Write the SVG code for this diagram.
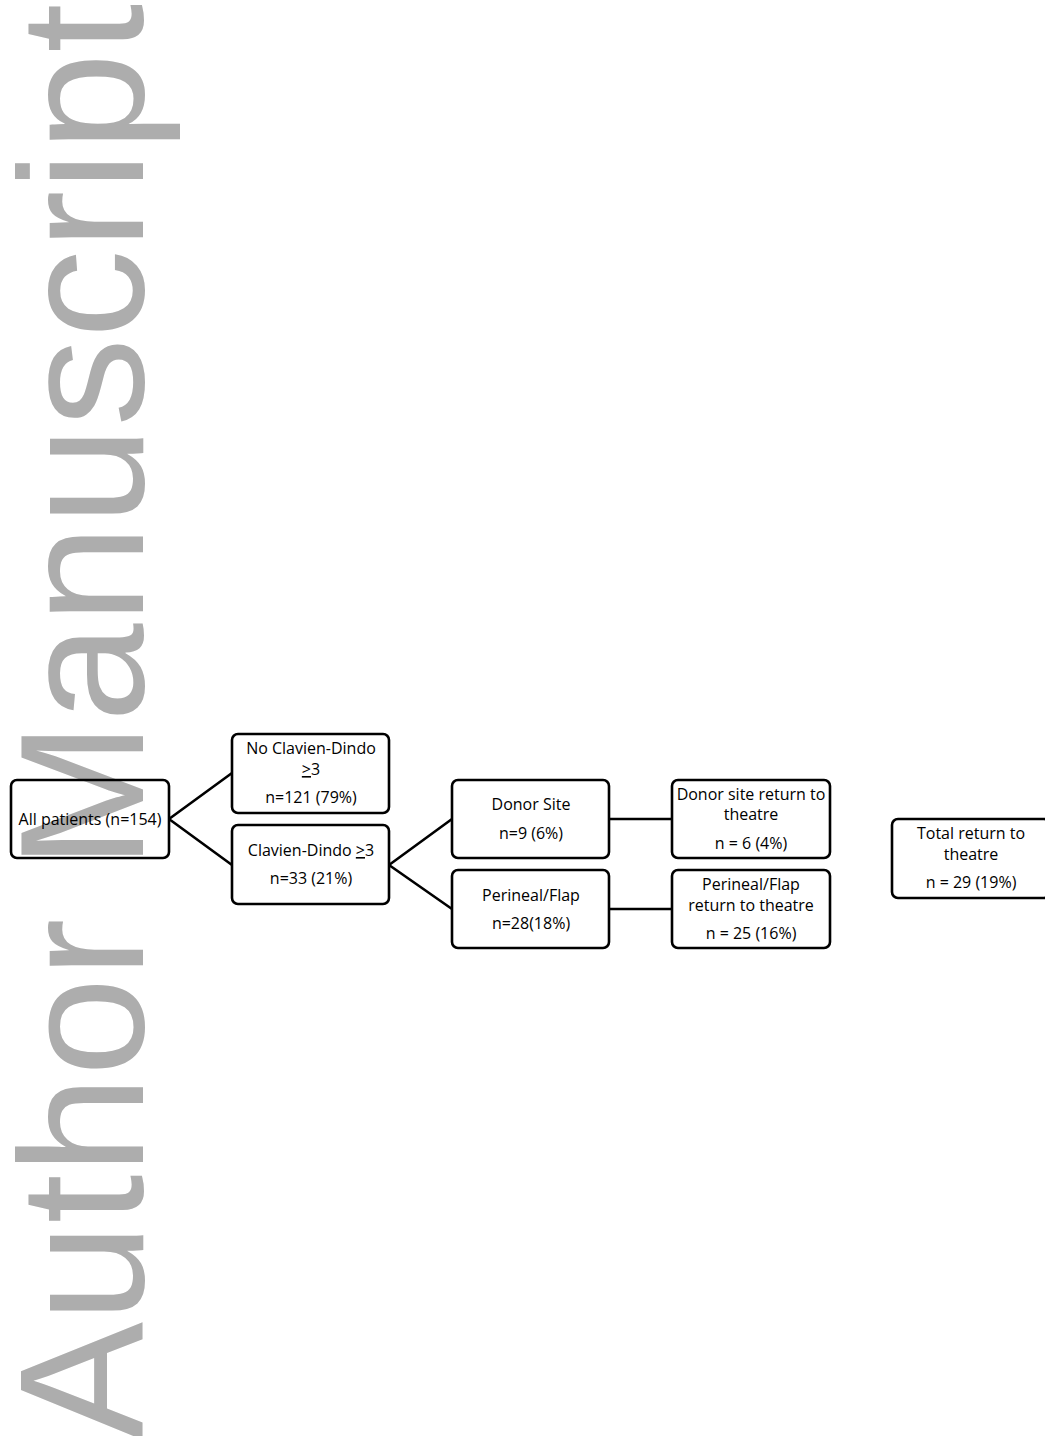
<svg xmlns="http://www.w3.org/2000/svg" width="1045" height="1436" viewBox="0 0 1045 1436">
<style>
.wm{font-family:"Liberation Sans",Arial,sans-serif;font-size:177px;fill:#adadad}
.box{fill:none;stroke:#000;stroke-width:2.6}
.t{font-family:"Open Sans","Liberation Sans",sans-serif;font-size:16px;fill:#000;text-anchor:middle}
.c{stroke:#000;stroke-width:2.6;fill:none}
.u{text-decoration:underline}
</style>
<rect width="1045" height="1436" fill="#fff"/>
<text class="wm" transform="translate(143,1440) rotate(-90)" x="0" y="0">Author Manuscript</text>
<g id="connectors">
<path class="c" d="M169 819 L232 773 M169 819 L232 865"/>
<path class="c" d="M389 865 L452 819 M389 865 L452 909"/>
<path class="c" d="M609 819 L672 819 M609 909 L672 909"/>
</g>
<g id="all">
<rect class="box" x="11" y="780" width="158" height="78" rx="6"/>
<text class="t" x="90" y="825">All patients (n=154)</text>
</g>
<g id="nocd">
<rect class="box" x="232" y="734" width="157" height="79" rx="6"/>
<text class="t" x="311" y="754">No Clavien-Dindo</text>
<text class="t" x="311" y="775"><tspan class="u">&gt;</tspan>3</text>
<text class="t" x="311" y="803">n=121 (79%)</text>
</g>
<g id="cd">
<rect class="box" x="232" y="825" width="157" height="79" rx="6"/>
<text class="t" x="311" y="856">Clavien-Dindo <tspan class="u">&gt;</tspan>3</text>
<text class="t" x="311" y="884">n=33 (21%)</text>
</g>
<g id="donor">
<rect class="box" x="452" y="780" width="157" height="78" rx="6"/>
<text class="t" x="531" y="810">Donor Site</text>
<text class="t" x="531" y="839">n=9 (6%)</text>
</g>
<g id="perineal">
<rect class="box" x="452" y="870" width="157" height="78" rx="6"/>
<text class="t" x="531" y="901">Perineal/Flap</text>
<text class="t" x="531" y="929">n=28(18%)</text>
</g>
<g id="donorrtt">
<rect class="box" x="672" y="780" width="158" height="78" rx="6"/>
<text class="t" x="751" y="800">Donor site return to</text>
<text class="t" x="751" y="820">theatre</text>
<text class="t" x="751" y="849">n = 6 (4%)</text>
</g>
<g id="perinealrtt">
<rect class="box" x="672" y="870" width="158" height="78" rx="6"/>
<text class="t" x="751" y="890">Perineal/Flap</text>
<text class="t" x="751" y="911">return to theatre</text>
<text class="t" x="751" y="939">n = 25 (16%)</text>
</g>
<g id="total">
<rect class="box" x="892" y="819" width="158" height="79" rx="6"/>
<text class="t" x="971" y="839">Total return to</text>
<text class="t" x="971" y="860">theatre</text>
<text class="t" x="971" y="888">n = 29 (19%)</text>
</g>
</svg>
